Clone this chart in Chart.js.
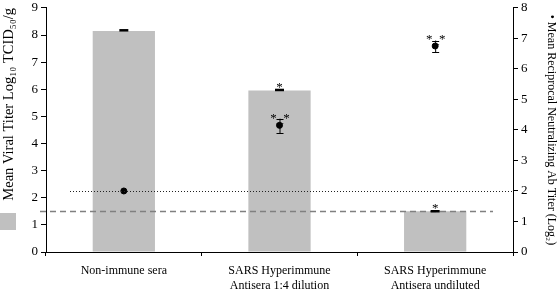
<!DOCTYPE html>
<html lang="en">
<head>
    <meta charset="UTF-8">
    <title>Viral titer vs neutralizing Ab</title>
    <script src="https://cdn.jsdelivr.net/npm/chart.js"></script>
    <style>
        html, body { margin: 0; padding: 0; background: #fff; }
    </style>
</head>
<body>
    <canvas id="titerChart" width="558" height="290"></canvas>

    <script>
        // data
        const groups = [
            'Non-immune sera',
            ['SARS Hyperimmune', 'Antisera 1:4 dilution'],
            ['SARS Hyperimmune', 'Antisera undiluted']
        ];
        const viralTiter = [8.15, 5.95, 1.5];     // left axis, log10 TCID50/g
        const viralErr = [0.06, 0.06, 0.04];
        const viralMarks = ['', '*', '*'];
        const abTiter = [2.0, 4.15, 6.75];        // right axis, log2
        const abErrHi = [0, 0.22, 0.18];
        const abErrLo = [0, 0.25, 0.2];
        const abMarks = ['', '*_*', '*_*'];
        const leftTicks = [0, 1, 2, 3, 4, 5, 6, 7, 8, 9];
        const rightTicks = [0, 1, 2, 3, 4, 5, 6, 7, 8];
        const detectLimitTiter = 1.5;   // dashed line, left axis
        const detectLimitAb = 2;        // dotted line, right axis

        const serif = '"Liberation Serif", "Times New Roman", serif';

        // error bars, asterisks, reference lines and the little legend swatch
        const extras = {
            id: 'extras',
            afterDatasetsDraw(chart) {
                const ctx = chart.ctx, area = chart.chartArea;
                const x = chart.scales.x, y = chart.scales.y, y2 = chart.scales.y2;
                ctx.save();

                // dotted line for Ab limit
                ctx.strokeStyle = '#222';
                ctx.lineWidth = 1.2;
                ctx.setLineDash([1, 2]);
                let py = Math.round(y2.getPixelForValue(detectLimitAb)) + 0.5;
                ctx.beginPath();
                ctx.moveTo(area.left + 24, py);
                ctx.lineTo(area.right, py);
                ctx.stroke();

                // dashed limit line for titer
                ctx.strokeStyle = '#808080';
                ctx.lineWidth = 1.3;
                ctx.setLineDash([6, 4]);
                py = Math.round(y.getPixelForValue(detectLimitTiter)) + 0.5;
                ctx.beginPath();
                ctx.moveTo(area.left - 6, py);
                ctx.lineTo(area.right - 20, py);
                ctx.stroke();
                ctx.setLineDash([]);

                ctx.strokeStyle = '#000';
                ctx.fillStyle = '#000';
                ctx.textAlign = 'center';
                ctx.textBaseline = 'bottom';
                ctx.font = '13px ' + serif;

                viralTiter.forEach((v, i) => {
                    const px = x.getPixelForValue(i);
                    const top = y.getPixelForValue(v + viralErr[i]);
                    ctx.lineWidth = 2.5;
                    ctx.beginPath();
                    ctx.moveTo(px - 4.5, top + 1);
                    ctx.lineTo(px + 4.5, top + 1);
                    ctx.stroke();
                    if (viralMarks[i]) ctx.fillText(viralMarks[i], px, top + 5);
                });

                abTiter.forEach((v, i) => {
                    if (!abErrHi[i]) return;
                    const px = x.getPixelForValue(i);
                    const hi = y2.getPixelForValue(v + abErrHi[i]);
                    const lo = y2.getPixelForValue(v - abErrLo[i]);
                    ctx.lineWidth = 1;
                    ctx.beginPath();
                    ctx.moveTo(px + 0.5, hi);
                    ctx.lineTo(px + 0.5, lo);
                    ctx.moveTo(px - 3, Math.round(hi) + 0.5);
                    ctx.lineTo(px + 4, Math.round(hi) + 0.5);
                    ctx.moveTo(px - 3, Math.round(lo) + 0.5);
                    ctx.lineTo(px + 4, Math.round(lo) + 0.5);
                    ctx.stroke();
                    if (abMarks[i]) ctx.fillText(abMarks[i], px + 0.5, hi + 6);
                });

                // legend swatch for the bars, under the left title
                ctx.fillStyle = '#c0c0c0';
                ctx.fillRect(0, 213, 16, 17);
                ctx.restore();
            }
        };

        const ctx = document.getElementById('titerChart').getContext('2d');
        const chart = new Chart(ctx, {
            data: {
                labels: groups,
                datasets: [{
                    type: 'line',
                    label: 'Mean Reciprocal Neutralizing Ab Titer',
                    data: abTiter,
                    yAxisID: 'y2',
                    showLine: false,
                    pointRadius: 3,
                    pointBackgroundColor: '#000',
                    pointBorderColor: '#000',
                    order: 0
                }, {
                    type: 'bar',
                    label: 'Mean Viral Titer',
                    data: viralTiter,
                    yAxisID: 'y',
                    backgroundColor: '#c0c0c0',
                    barPercentage: 0.4,
                    categoryPercentage: 1,
                    order: 1
                }]
            },
            options: {
                responsive: false,
                animation: false,
                devicePixelRatio: 1,
                layout: { padding: 0 },
                plugins: {
                    legend: { display: false },
                    tooltip: { enabled: false }
                },
                scales: {
                    x: {
                        offset: true,
                        border: { color: '#000', width: 1 },
                        grid: { offset: true, drawOnChartArea: false, tickLength: 4, color: '#000' },
                        ticks: {
                            color: '#000',
                            font: { family: serif, size: 12 },
                            padding: 8,
                            maxRotation: 0,
                            autoSkip: false
                        },
                        afterFit(s) { s.height = 38; }
                    },
                    y: {
                        position: 'left',
                        min: 0,
                        max: 9,
                        afterBuildTicks(s) { s.ticks = leftTicks.map(v => ({ value: v })); },
                        border: { color: '#000', width: 1 },
                        grid: { drawOnChartArea: false, tickLength: 5, color: '#000' },
                        ticks: {
                            color: '#000',
                            font: { family: serif, size: 13, lineHeight: 0.75 },
                            padding: 3,
                            autoSkip: false
                        },
                        title: {
                            display: true,
                            text: 'Mean Viral Titer Log\u2081\u2080 TCID\u2085\u2080/g',
                            color: '#000',
                            font: { family: serif, size: 14.5 },
                            align: 'end',
                            padding: { top: 0, bottom: 0 }
                        },
                        afterFit(s) { s.width = 46; }
                    },
                    y2: {
                        position: 'right',
                        min: 0,
                        max: 8,
                        afterBuildTicks(s) { s.ticks = rightTicks.map(v => ({ value: v })); },
                        border: { color: '#000', width: 1 },
                        grid: { drawOnChartArea: false, tickLength: 5, color: '#000' },
                        ticks: {
                            color: '#000',
                            font: { family: serif, size: 13, lineHeight: 0.75 },
                            padding: 3,
                            autoSkip: false
                        },
                        title: {
                            display: true,
                            text: '\u2022 Mean Reciprocal Neutralizing Ab Titer (Log\u2082)',
                            color: '#000',
                            font: { family: serif, size: 12 },
                            padding: { top: 0, bottom: 0 }
                        },
                        afterFit(s) { s.width = 45; }
                    }
                }
            },
            plugins: [extras]
        });
    </script>
</body>
</html>
